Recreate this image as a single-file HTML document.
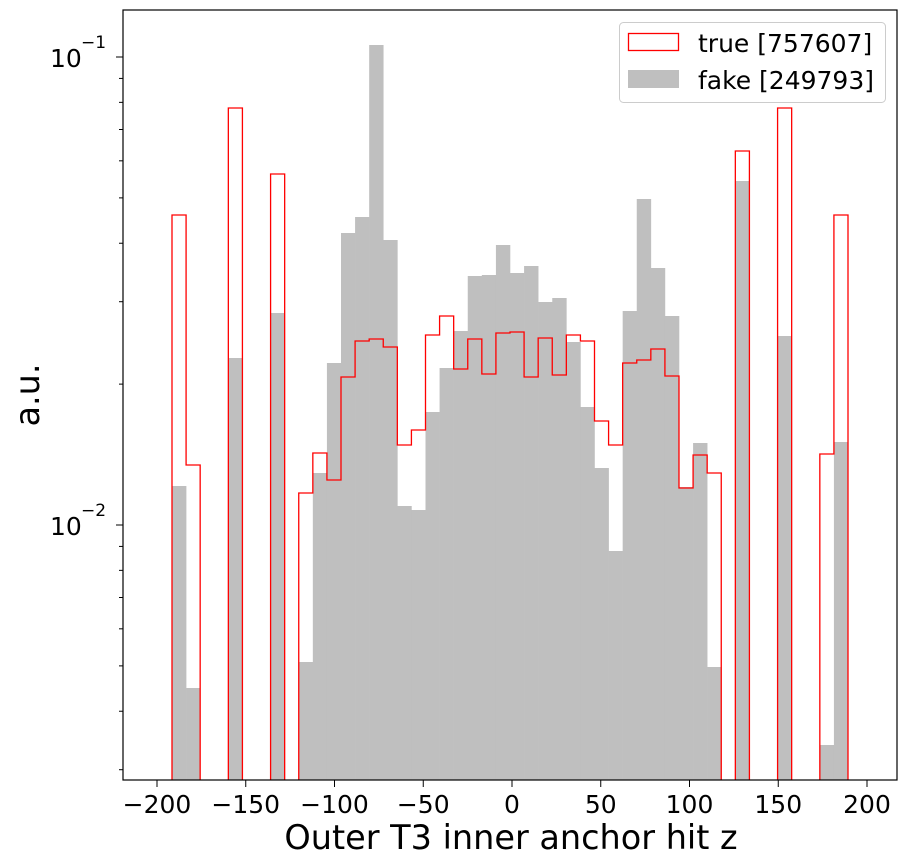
<!DOCTYPE html>
<html><head><meta charset="utf-8"><style>body{margin:0;background:#fff}svg{display:block}text{font-family:"DejaVu Sans","Liberation Sans",sans-serif}</style></head>
<body>
<svg id="s" width="907" height="866" xmlns="http://www.w3.org/2000/svg">
<rect width="907" height="866" fill="#fff"/>
<g id="g"></g>
<rect x="123" y="10" width="774" height="770" fill="none" stroke="#000" stroke-width="1.2"/>
<g id="t"></g>
<g font-size="25" fill="#000">
<text x="50" y="67">10</text><text x="81" y="48" font-size="17">−1</text>
<text x="50" y="535">10</text><text x="81" y="516" font-size="17">−2</text>
</g>
<text x="511" y="849" font-size="33.5" text-anchor="middle">Outer T3 inner anchor hit z</text>
<text transform="translate(39,395) rotate(-90)" font-size="33.5" text-anchor="middle">a.u.</text>
<rect x="619.5" y="22.5" width="266" height="80" rx="4" fill="#fff" fill-opacity="0.8" stroke="#ccc"/>
<rect x="628.5" y="33.5" width="50" height="17" fill="none" stroke="#f00" stroke-width="1.3"/>
<rect x="628" y="70" width="51" height="18" fill="#bfbfbf"/>
<text x="698" y="52" font-size="25">true [757607]</text>
<text x="698" y="89" font-size="25">fake [249793]</text>
</svg>
<script>
var NS="http://www.w3.org/2000/svg",g=document.getElementById("g"),t=document.getElementById("t");
var L=172,W=676/48,B=780;
var gray={0:486,1:688,4:358,7:313,40:181,43:336,46:745,47:442};
var gv=[662,473,363,233,217,45,240,506,510,412,368,331,276,275,245,273,266,302,298,342,407,468,551,311,199,268,316,487,443,667];
for(var i=0;i<30;i++)gray[9+i]=gv[i];
var tru={0:215,1:465,4:108,7:174,40:151,43:108,46:454,47:215};
var tv=[493,453,480,377,341,339,347,445,430,335,316,369,339,374,333,332,377,338,375,335,341,421,445,363,360,349,376,488,455,473];
for(i=0;i<30;i++)tru[9+i]=tv[i];
function el(n,a,p){var e=document.createElementNS(NS,n);for(var k in a)e.setAttribute(k,a[k]);(p||g).appendChild(e);return e;}
for(var k in gray){var x=L+W*k;el("rect",{x:x,y:gray[k],width:W+0.3,height:B-gray[k],fill:"#bfbfbf"});}
var d="",prev=false;
for(i=0;i<48;i++){var x0=L+W*i,x1=x0+W;
 if(tru[i]!==undefined){ if(!prev)d+="M"+x0+" "+B+" ";d+="L"+x0+" "+tru[i]+" L"+x1+" "+tru[i]+" ";prev=true;}
 else{ if(prev)d+="L"+x0+" "+B+" ";prev=false;}}
if(prev)d+="L"+(L+W*48)+" "+B;
el("path",{d:d,fill:"none",stroke:"#f00","stroke-width":1.3});
for(var v=-200;v<=200;v+=50){var x=512+v*1.775;el("line",{x1:x,y1:780,x2:x,y2:787,stroke:"#000"},t);
 var tx=el("text",{x:x,y:813,"font-size":25,"text-anchor":"middle"},t);tx.textContent=(v<0?"−":"")+Math.abs(v);}
[57,525].forEach(function(y){el("line",{x1:116,y1:y,x2:123,y2:y,stroke:"#000"},t);});
for(var m=2;m<10;m++){var y=525-468*Math.log10(m);el("line",{x1:119,y1:y,x2:123,y2:y,stroke:"#000"},t);
 y=993-468*Math.log10(m);if(y<=780)el("line",{x1:119,y1:y,x2:123,y2:y,stroke:"#000"},t);}
</script>
</body></html>
